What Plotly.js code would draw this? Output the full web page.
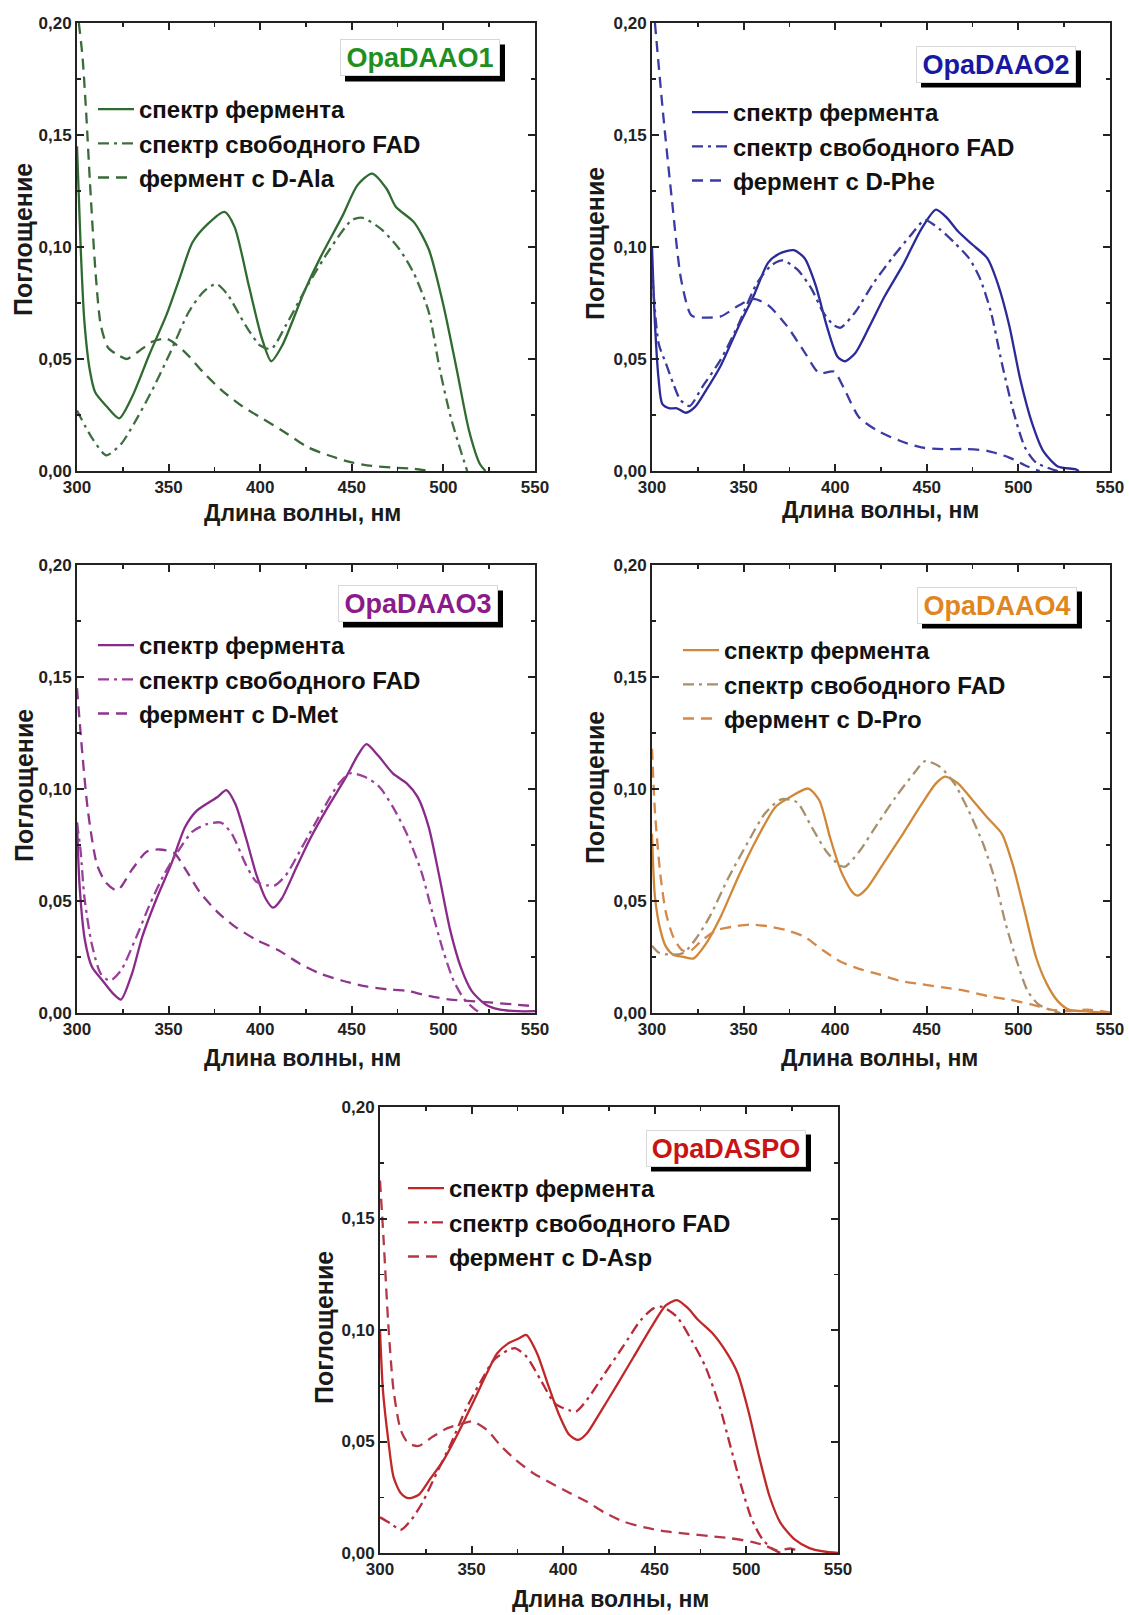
<!DOCTYPE html>
<html>
<head>
<meta charset="utf-8">
<script src="https://cdn.plot.ly/plotly-3.0.1.min.js"></script>
<style>html,body{margin:0;padding:0;background:#fff;}#chart{width:1129px;height:1615px;}</style>
</head>
<body>
<div id="chart"></div>
<script>
// ---------------- DATA ----------------
const panelTitles = ["OpaDAAO1", "OpaDAAO2", "OpaDAAO3", "OpaDAAO4", "OpaDASPO"];
const nameEnzyme = "спектр фермента";
const nameFAD = "спектр свободного FAD";
const substrateNames = ["фермент с D-Ala", "фермент с D-Phe", "фермент с D-Met", "фермент с D-Pro", "фермент с D-Asp"];
const xTitle = "Длина волны, нм";
const yTitle = "Поглощение";

// Panel 1 — OpaDAAO1
const wl1_enz = [300,302,304,307,310,316,323,330,339.5,349,356,363,371,380.5,386,394,401,406,412,424,433,445,453,461,469,474,484,492,500,507.6,514,520,523];
const ab1_enz = [0.145,0.10,0.067,0.045,0.035,0.029,0.0235,0.033,0.052,0.070,0.086,0.102,0.110,0.1157,0.109,0.082,0.059,0.049,0.056,0.080,0.0956,0.114,0.1275,0.1328,0.126,0.118,0.111,0.099,0.074,0.044,0.018,0.003,0];
const wl1_fad = [300,308,316,324,331,341,351,361,369,376,382,392,400,406,414,426,438,450,456,466,476,484,492,498,504,510,513];
const ab1_fad = [0.027,0.015,0.007,0.012,0.021,0.036,0.053,0.071,0.080,0.0835,0.079,0.065,0.056,0.0545,0.065,0.083,0.099,0.112,0.113,0.108,0.099,0.088,0.071,0.0455,0.024,0.0076,0];
const wl1_sub = [301,303,305,307,310,313,317,322,327,333,341,349,359,369,379,390,402,414,426,438,450,461,473,484,492];
const ab1_sub = [0.20,0.185,0.16,0.13,0.09,0.065,0.055,0.052,0.050,0.053,0.0577,0.059,0.053,0.044,0.036,0.029,0.023,0.017,0.0106,0.0068,0.0038,0.0023,0.0015,0.001,0];

// Panel 2 — OpaDAAO2
const wl2_enz = [300,301.6,303.6,305.6,309.6,313.6,318.5,323.5,329.5,337.5,347.5,355.4,363.4,369.4,377.4,383.3,389.3,395.3,401.3,405.3,411,419,427,437,447,455,461,467,475,483,489,495,501,507.6,513.5,521.5,531,533];
const ab2_enz = [0.10,0.066,0.041,0.030,0.028,0.028,0.026,0.0286,0.036,0.047,0.065,0.078,0.093,0.097,0.0986,0.095,0.083,0.065,0.051,0.049,0.0527,0.065,0.078,0.092,0.108,0.1167,0.113,0.107,0.101,0.095,0.083,0.065,0.041,0.021,0.009,0.002,0.0008,0];
const wl2_fad = [300,303.6,307.6,311.6,315.6,320.5,327.5,337.5,347.5,357.4,365.4,371.4,379.3,387.3,393.3,399.3,403,411,421,431,441,449,457,465,473,479,485,491,497.6,503.6,509.6,517.5,521.5];
const ab2_fad = [0.09,0.057,0.048,0.039,0.0316,0.029,0.0376,0.0497,0.066,0.084,0.092,0.094,0.090,0.081,0.071,0.065,0.064,0.071,0.084,0.095,0.105,0.112,0.108,0.102,0.095,0.086,0.071,0.048,0.0256,0.0105,0.0038,0.001,0];
const wl2_sub = [301.6,306,311,316,321.5,327.5,337.5,347.5,355.4,363.4,373.4,383.3,391.3,399.3,405.3,413,423,435,447,459,471,483,495,505,511.6];
const ab2_sub = [0.20,0.16,0.12,0.085,0.0695,0.0685,0.069,0.074,0.0768,0.074,0.065,0.053,0.0437,0.0444,0.036,0.024,0.018,0.0136,0.0105,0.0098,0.0098,0.009,0.006,0.002,0];

// Panel 3 — OpaDAAO3
const wl3_enz = [300,301.4,304.3,308.2,314,320,324,330,335.6,343.4,351.2,359,365,370.8,376.7,381.5,386.4,392.3,398,403,407,411.7,419.5,427.4,437,447,453,458,464.6,472.4,480,486,492,498,503.7,509.5,515.4,523,531,540.8,550];
const ab3_enz = [0.085,0.057,0.0326,0.0205,0.0144,0.0084,0.006,0.0175,0.034,0.051,0.066,0.083,0.090,0.0934,0.0964,0.0995,0.0934,0.078,0.0615,0.051,0.047,0.051,0.0645,0.078,0.092,0.1055,0.1147,0.120,0.1147,0.107,0.1025,0.0964,0.083,0.060,0.037,0.0205,0.0099,0.0038,0.0015,0.0008,0.0008];
const wl3_fad = [300,302,304,308,313,318,324,331.7,339.5,347.3,355,363,370.8,378.6,384.5,392.3,398,404,408,414,423.5,433,443,449,457,465,472.4,480,488,494,499.8,505.6,511.5,517.4,520];
const ab3_fad = [0.085,0.072,0.052,0.031,0.0175,0.0144,0.019,0.0326,0.048,0.0615,0.072,0.081,0.0843,0.085,0.080,0.066,0.0585,0.057,0.057,0.0615,0.075,0.089,0.1025,0.107,0.1055,0.101,0.092,0.080,0.063,0.0448,0.028,0.0144,0.006,0.0015,0];
const wl3_sub = [300,303,306,311,316,322,330,338,345,353,359,367,377,386,398,410,421.6,433,445,457,469,480,492,503.7,515,527,539,550];
const ab3_sub = [0.145,0.115,0.09,0.066,0.058,0.0547,0.064,0.072,0.073,0.0714,0.0645,0.054,0.0448,0.0387,0.0326,0.028,0.022,0.0175,0.0144,0.012,0.0106,0.0099,0.0076,0.006,0.0053,0.0046,0.0038,0.003];

// Panel 4 — OpaDAAO4
const wl4_enz = [300,301.6,304.6,307.6,311.6,317.5,322.5,329.5,337.5,347.5,357.4,367.4,375.4,385.3,391.3,397.3,403.3,409.3,412.3,417,427,437,447,455,460,467,475,483,491,497,503.6,509.6,515.5,521.5,527.5,535.5,550];
const ab4_enz = [0.080,0.052,0.037,0.0296,0.026,0.025,0.0243,0.031,0.043,0.0615,0.078,0.092,0.0964,0.1002,0.095,0.078,0.063,0.054,0.0524,0.0554,0.0676,0.080,0.093,0.1025,0.1055,0.1025,0.095,0.0873,0.080,0.066,0.0448,0.025,0.013,0.0053,0.0015,0.0008,0];
const wl4_fad = [300,303.6,311.6,317.5,323.5,331.5,341.5,351.5,361.4,369.4,373.4,379.3,387.3,395.3,402.3,405.3,413,423,433,443,449,457,465,473,481,487,493,499.6,505,511,519.5,523];
const ab4_fad = [0.030,0.027,0.026,0.027,0.0326,0.043,0.060,0.075,0.0888,0.095,0.0955,0.094,0.0828,0.072,0.066,0.0653,0.072,0.0843,0.0964,0.107,0.1124,0.110,0.1025,0.090,0.075,0.060,0.040,0.022,0.0099,0.0038,0.0008,0];
const wl4_sub = [300,301.6,304.6,307.6,311.6,316.5,320.5,327.5,335.5,345.5,353.5,363.4,373.4,383.3,393.3,403.3,413,423,435,447,459,471,483,495,507,517.5,527.5,537.5,550];
const ab4_sub = [0.118,0.090,0.0615,0.0448,0.034,0.028,0.0275,0.0326,0.037,0.0387,0.0395,0.0387,0.037,0.034,0.028,0.0228,0.0197,0.0175,0.0144,0.0129,0.0114,0.0099,0.0076,0.006,0.0038,0.0015,0.0008,0.0015,0.0003];

// Panel 5 — OpaDASPO
const wl5_enz = [300,301.6,304.5,307.4,311.3,315.3,321,327,334.8,342.6,350.5,358.3,364,370,376,379.8,385.7,391.5,397.4,403.3,408.2,413,420.9,428.8,438.5,448.3,456,462,467.8,473.7,481.5,489.4,495.2,501,507,512.8,518.7,526.5,534.4,542,550];
const ab5_enz = [0.10,0.073,0.0507,0.034,0.0269,0.0246,0.026,0.0328,0.0418,0.0537,0.067,0.0806,0.0896,0.094,0.0963,0.0978,0.0896,0.076,0.0627,0.053,0.0507,0.0537,0.064,0.0746,0.088,0.1015,0.111,0.1134,0.110,0.1045,0.0985,0.0896,0.0806,0.064,0.043,0.025,0.0134,0.006,0.0022,0.0007,0];
const wl5_fad = [300,305.5,311.3,317.2,323,330.9,338.7,346.6,354.4,362.2,370,374,380,387.7,395.5,403.3,407,413,422.8,432.6,442.4,449.3,454,462,470,477.6,485.4,491.3,497.2,503,508.9,514.8,518.7];
const ab5_fad = [0.016,0.0134,0.0104,0.015,0.0224,0.0358,0.049,0.064,0.076,0.0866,0.091,0.0918,0.088,0.0776,0.067,0.064,0.0634,0.0687,0.0806,0.0925,0.1045,0.1097,0.1104,0.106,0.0955,0.0836,0.0657,0.0478,0.030,0.015,0.006,0.0015,0];
const wl5_sub = [300,302,304.5,307.4,311.3,315.3,321,328.9,336.8,344.6,350.5,358.3,366,374,383.7,393.5,403.3,413,422.8,432.6,444.4,456,468,479.6,491.3,503,510.6,516.6,524.6,530];
const ab5_sub = [0.167,0.14,0.103,0.073,0.0552,0.0493,0.048,0.0522,0.056,0.058,0.059,0.0552,0.048,0.0418,0.0358,0.0313,0.027,0.023,0.018,0.0142,0.0115,0.0097,0.0086,0.0076,0.0066,0.005,0.0032,0.0012,0.002,0];

// ---------------- STYLE ----------------
const FONT = "Liberation Sans, Arial, Helvetica, sans-serif";
const W = 1129, H = 1615;
const palette = [
  {enz:"#2f6b30", fad:"#3f6f40", sub:"#3a6a3a", title:"#1f8f22"},
  {enz:"#2a2a98", fad:"#3a3a9c", sub:"#3b3ba6", title:"#1818a0"},
  {enz:"#8a2a8a", fad:"#9a3f9a", sub:"#8e358e", title:"#8b1a8b"},
  {enz:"#d08838", fad:"#a8906c", sub:"#d4884a", title:"#e0861e"},
  {enz:"#c02828", fad:"#b82a3a", sub:"#b33846", title:"#c81414"}
];
// plot-area pixel boxes [left, right, top, bottom]
const boxes = [
  [77, 535, 23, 471],
  [652, 1110, 23, 471],
  [77, 535, 565, 1013],
  [652, 1110, 565, 1013],
  [380, 838, 1107, 1553]
];
const legendPos = [[93, 87], [687, 90], [93, 623], [678, 628], [403, 1166]];
const titlePos = [[420, 58], [996, 64], [418, 604], [997, 605], [726, 1148]];
const xTitlePos = [[302, 513], [880, 510], [302, 1058], [879, 1058], [610, 1599]];
const yTitlePos = [[23, 240], [595, 244], [24, 786], [595, 788], [324, 1328]];
const TB_W = 160, TB_H = 37, SHADOW = 5;

const series = [
  [wl1_enz, ab1_enz, wl1_fad, ab1_fad, wl1_sub, ab1_sub],
  [wl2_enz, ab2_enz, wl2_fad, ab2_fad, wl2_sub, ab2_sub],
  [wl3_enz, ab3_enz, wl3_fad, ab3_fad, wl3_sub, ab3_sub],
  [wl4_enz, ab4_enz, wl4_fad, ab4_fad, wl4_sub, ab4_sub],
  [wl5_enz, ab5_enz, wl5_fad, ab5_fad, wl5_sub, ab5_sub]
];

const px = v => v / W;
const py = v => 1 - v / H;

const traces = [];
const layout = {
  width: W, height: H,
  margin: {l:0, r:0, t:0, b:0},
  paper_bgcolor: "#fff", plot_bgcolor: "#fff",
  separators: ", ",
  showlegend: true,
  font: {family: FONT, color: "#1a1a1a"},
  annotations: [],
  shapes: []
};

for (let i = 0; i < 5; i++) {
  const n = i + 1;
  const xa = n === 1 ? "x" : "x" + n;
  const ya = n === 1 ? "y" : "y" + n;
  const lg = n === 1 ? "legend" : "legend" + n;
  const c = palette[i];
  const s = series[i];
  const common = {xaxis: xa, yaxis: ya, legend: lg, mode: "lines", hoverinfo: "skip"};
  traces.push(Object.assign({}, common, {x: s[0], y: s[1], name: nameEnzyme,
    line: {color: c.enz, width: 2.3, shape: "spline", smoothing: 0.7}}));
  traces.push(Object.assign({}, common, {x: s[2], y: s[3], name: nameFAD,
    line: {color: c.fad, width: 2.3, dash: "11px,5px,3px,5px", shape: "spline", smoothing: 0.7}}));
  traces.push(Object.assign({}, common, {x: s[4], y: s[5], name: substrateNames[i],
    line: {color: c.sub, width: 2.3, dash: "11px,7px", shape: "spline", smoothing: 0.7}}));

  const b = boxes[i];
  const axBase = {
    showline: true, linewidth: 2, linecolor: "#222", mirror: "allticks",
    ticks: "inside", ticklen: 7, tickwidth: 2, tickcolor: "#222",
    showgrid: false, zeroline: false, fixedrange: true,
    tickfont: {family: FONT, size: 17, weight: 700, color: "#222"}
  };
  layout["xaxis" + (n === 1 ? "" : n)] = Object.assign({}, axBase, {
    domain: [px(b[0]), px(b[1])], anchor: ya,
    range: [300, 550], tick0: 300, dtick: 50,
    minor: {ticks: "inside", ticklen: 4, tickwidth: 1.5, tickcolor: "#222", dtick: 25, showgrid: false}
  });
  layout["yaxis" + (n === 1 ? "" : n)] = Object.assign({}, axBase, {
    domain: [py(b[3]), py(b[2])], anchor: xa,
    range: [0, 0.2], tick0: 0, dtick: 0.05, tickformat: ".2f",
    minor: {ticks: "inside", ticklen: 4, tickwidth: 1.5, tickcolor: "#222", dtick: 0.025, showgrid: false}
  });
  layout[lg] = {
    x: px(legendPos[i][0]), xanchor: "left",
    y: py(legendPos[i][1]), yanchor: "top",
    bgcolor: "rgba(0,0,0,0)", borderwidth: 0,
    itemwidth: 36, traceorder: "normal", tracegroupgap: 0,
    font: {family: FONT, size: 24, weight: 700, color: "#111"}
  };
  // axis titles
  layout.annotations.push({
    xref: "paper", yref: "paper", x: px(xTitlePos[i][0]), y: py(xTitlePos[i][1]),
    xanchor: "center", yanchor: "middle", showarrow: false, text: xTitle,
    font: {family: FONT, size: 23, weight: 700, color: "#1a1a1a"}
  });
  layout.annotations.push({
    xref: "paper", yref: "paper", x: px(yTitlePos[i][0]), y: py(yTitlePos[i][1]),
    xanchor: "center", yanchor: "middle", showarrow: false, text: yTitle, textangle: -90,
    font: {family: FONT, size: 25, weight: 700, color: "#1a1a1a"}
  });
  // panel title box with drop shadow
  const tp = titlePos[i];
  layout.shapes.push({
    type: "rect", xref: "paper", yref: "paper", layer: "above",
    x0: px(tp[0] - TB_W / 2 + SHADOW), x1: px(tp[0] + TB_W / 2 + SHADOW),
    y0: py(tp[1] + TB_H / 2 + SHADOW), y1: py(tp[1] - TB_H / 2 + SHADOW),
    fillcolor: "#000", line: {width: 0}
  });
  layout.annotations.push({
    xref: "paper", yref: "paper", x: px(tp[0]), y: py(tp[1]),
    xanchor: "center", yanchor: "middle", width: TB_W - 6, height: TB_H - 6,
    text: panelTitles[i], showarrow: false,
    font: {family: FONT, size: 27, weight: 700, color: c.title},
    bgcolor: "#fff", borderpad: 2, borderwidth: 1, bordercolor: "#d8d8d8"
  });
}

Plotly.newPlot("chart", traces, layout, {displayModeBar: false, staticPlot: true});
</script>
</body>
</html>
